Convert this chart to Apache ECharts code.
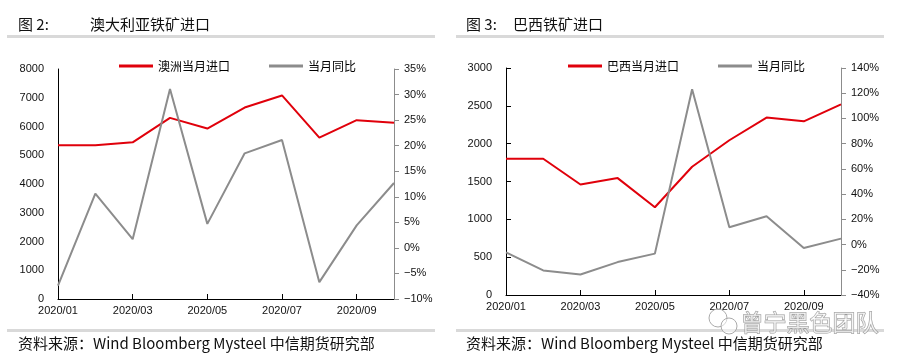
<!DOCTYPE html>
<html><head><meta charset="utf-8">
<script src="https://cdn.jsdelivr.net/npm/echarts@6/dist/echarts.min.js"></script>
<style>html,body{margin:0;padding:0;background:#fff}#c{width:898px;height:363px}</style>
</head><body><div id="c"></div>
<script>
const months = ['2020/01','2020/02','2020/03','2020/04','2020/05','2020/06','2020/07','2020/08','2020/09','2020/10'];
const ausImport = [5350, 5350, 5450, 6300, 5930, 6660, 7080, 5610, 6220, 6130];
const ausYoY = [-7.4, 10.6, 1.7, 31.1, 4.7, 18.5, 21.1, -6.7, 4.4, 12.7];
const braImport = [1800, 1800, 1460, 1545, 1160, 1695, 2045, 2345, 2295, 2520];
const braYoY = [-6.2, -20.5, -23.7, -13.9, -7.2, 123.1, 13.7, 22.4, -2.8, 4.7];
const leftTitle = ['图 2:', '澳大利亚铁矿进口'];
const rightTitle = ['图 3:', '巴西铁矿进口'];
const sourceText = '资料来源：Wind Bloomberg Mysteel 中信期货研究部';

const FONT = '"Liberation Sans", Arial, sans-serif';
const CJK = '"Noto Sans CJK SC", "Liberation Sans", sans-serif';
const RED = '#e0000b', GREY = '#8c8c8c';
const chart = echarts.init(document.getElementById('c'), null, {renderer: 'canvas'});
const pct = v => (v < 0 ? '\u2212' + Math.abs(v) : v) + '%';
const axLabel = {color: '#111', fontSize: 11, fontFamily: FONT};

function xAxis(idx) {
  return {type: 'category', gridIndex: idx, data: months, boundaryGap: false,
    axisLine: {lineStyle: {color: '#000', width: 1}},
    axisTick: {inside: true, length: 5, interval: 1, lineStyle: {color: '#000'}},
    axisLabel: Object.assign({interval: 1, margin: 6}, axLabel),
    splitLine: {show: false}};
}
function yLeft(idx, max, interval, ticks) {
  return {type: 'value', gridIndex: idx, min: 0, max: max, interval: interval, position: 'left',
    axisLine: {show: true, lineStyle: {color: '#000'}},
    axisTick: {show: ticks, inside: true, length: 5, lineStyle: {color: '#000'}},
    axisLabel: Object.assign({margin: 14, formatter: v => String(v)}, axLabel), splitLine: {show: false}};
}
function yRight(idx, min, max, interval) {
  return {type: 'value', gridIndex: idx, min: min, max: max, interval: interval, position: 'right',
    axisLine: {show: true, lineStyle: {color: GREY}},
    axisTick: {show: true, inside: false, length: 5, lineStyle: {color: GREY}},
    axisLabel: Object.assign({margin: 10, formatter: pct}, axLabel), splitLine: {show: false}};
}
function line(name, data, color, x, y) {
  return {type: 'line', name: name, data: data, xAxisIndex: x, yAxisIndex: y, symbol: 'none',
    lineStyle: {color: color, width: 2}, itemStyle: {color: color}, animation: false};
}
function legend(left, names) {
  return {left: left, top: 55, itemWidth: 34, itemHeight: 3, itemGap: 39, icon: 'rect',
    data: names, textStyle: {fontSize: 12, fontFamily: CJK, color: '#000', padding: [0, 0, 0, 0]}};
}
const textEl = (x, y, t, size, extra) => Object.assign({type: 'text', left: x, top: y,
  style: {text: t, fontSize: size, fontFamily: CJK, fill: '#111'}}, extra || {});
const bar = (x, y, w) => ({type: 'rect', shape: {x: x, y: y, width: w, height: 3}, style: {fill: '#d9d9d9'}});

chart.setOption({
  animation: false,
  grid: [
    {left: 58, top: 69, width: 336, height: 230},
    {left: 506, top: 68, width: 335, height: 227}
  ],
  xAxis: [xAxis(0), xAxis(1)],
  yAxis: [yLeft(0, 8000, 1000, false), yRight(0, -10, 35, 5), yLeft(1, 3000, 500, true), yRight(1, -40, 140, 20)],
  legend: [legend(114, ['澳洲当月进口', '当月同比']), legend(563, ['巴西当月进口', '当月同比 '])],
  series: [
    line('澳洲当月进口', ausImport, RED, 0, 0),
    line('当月同比', ausYoY, GREY, 0, 1),
    line('巴西当月进口', braImport, RED, 1, 2),
    line('当月同比 ', braYoY, GREY, 1, 3)
  ],
  graphic: [
    textEl(18, 17, leftTitle[0], 15), textEl(90, 17, leftTitle[1], 15),
    textEl(466, 17, rightTitle[0], 15), textEl(513, 17, rightTitle[1], 15),
    bar(7, 35, 428), bar(456, 35, 428),
    bar(7, 329, 428), bar(456, 329, 428),
    textEl(18, 336, sourceText, 15), textEl(466, 336, sourceText, 15),
    {type: 'text', left: 740, top: 310, z: 100,
      style: {text: '曾宁黑色团队', fontSize: 23, fontFamily: CJK, fill: 'rgba(255,255,255,0.6)', stroke: '#9a9a9a', lineWidth: 1}},
    {type: 'circle', shape: {cx: 718, cy: 318, r: 9}, z: 100, style: {fill: 'rgba(255,255,255,0.5)', stroke: '#aaa', lineWidth: 1}},
    {type: 'circle', shape: {cx: 729, cy: 326, r: 8}, z: 100, style: {fill: 'rgba(255,255,255,0.5)', stroke: '#aaa', lineWidth: 1}}
  ]
});
</script></body></html>
